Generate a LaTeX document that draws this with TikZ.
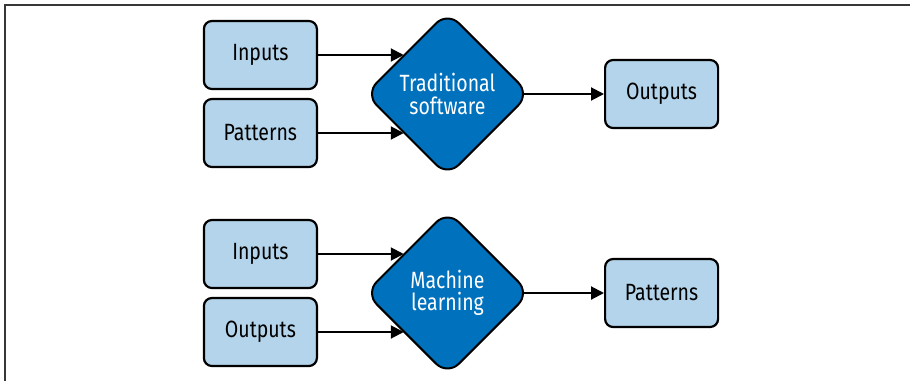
\documentclass[tikz,border=0pt]{standalone}
\usepackage{fontspec}
\setmainfont[FakeStretch=0.83]{Fira Sans}
\usetikzlibrary{shapes.geometric,arrows.meta,positioning}

\definecolor{boxblue}{RGB}{179,212,234}
\definecolor{diamblue}{RGB}{0,113,188}
\definecolor{framegray}{RGB}{55,55,55}

\begin{document}
\begin{tikzpicture}[
    x=1pt, y=-1pt,
    block/.style={rectangle, draw, line width=2.2pt, rounded corners=8pt, fill=boxblue, minimum width=113pt, minimum height=68pt, align=center, font=\fontsize{23.5}{23}\selectfont},
    decision/.style={diamond, draw, line width=2pt, rounded corners=16pt, fill=diamblue, text=white, minimum size=165pt, inner sep=0pt, aspect=1, align=center, font=\fontsize{23.5}{22.5}\selectfont},
    line/.style={draw, line width=2pt, -{Triangle[length=13pt,width=13pt]}},
    frame/.style={draw=framegray, line width=1.5pt}
]
\pgfdeclarelayer{bg}
\pgfsetlayers{bg,main}

\useasboundingbox (0,0) rectangle (910,381);
\path[frame] (5,381) -- (5,5) -- (910,5);

% ----------------------------
% Traditional software
% ----------------------------
\node[decision] (trad) at (447.5,94) {Traditional\\software};
\node[block, left=46pt of trad, yshift=39pt] (tinputs) {Inputs};
\node[block, left=46pt of trad, yshift=-39pt] (tpatterns) {Patterns};
\node[block, right=73pt of trad] (toutputs) {Outputs};

% ----------------------------
% Machine learning
% ----------------------------
\node[decision, below=32pt of trad] (ml) {Machine\\learning};
\node[block, left=46pt of ml, yshift=39pt] (minputs) {Inputs};
\node[block, left=46pt of ml, yshift=-39pt] (moutputs) {Outputs};
\node[block, right=73pt of ml] (mpatterns) {Patterns};

% ----------------------------
% Edges (background layer)
% ----------------------------
\begin{pgfonlayer}{bg}
\path[line, shorten >=2pt] (tinputs.east) -- (tinputs.east -| trad.north west);
\path[line, shorten >=2pt] (tpatterns.east) -- (tpatterns.east -| trad.south west);
\path[line] (trad.center) -- (toutputs);

\path[line, shorten >=2pt] (minputs.east) -- (minputs.east -| ml.north west);
\path[line, shorten >=2pt] (moutputs.east) -- (moutputs.east -| ml.south west);
\path[line] (ml.center) -- (mpatterns);
\end{pgfonlayer}

\end{tikzpicture}
\end{document}
